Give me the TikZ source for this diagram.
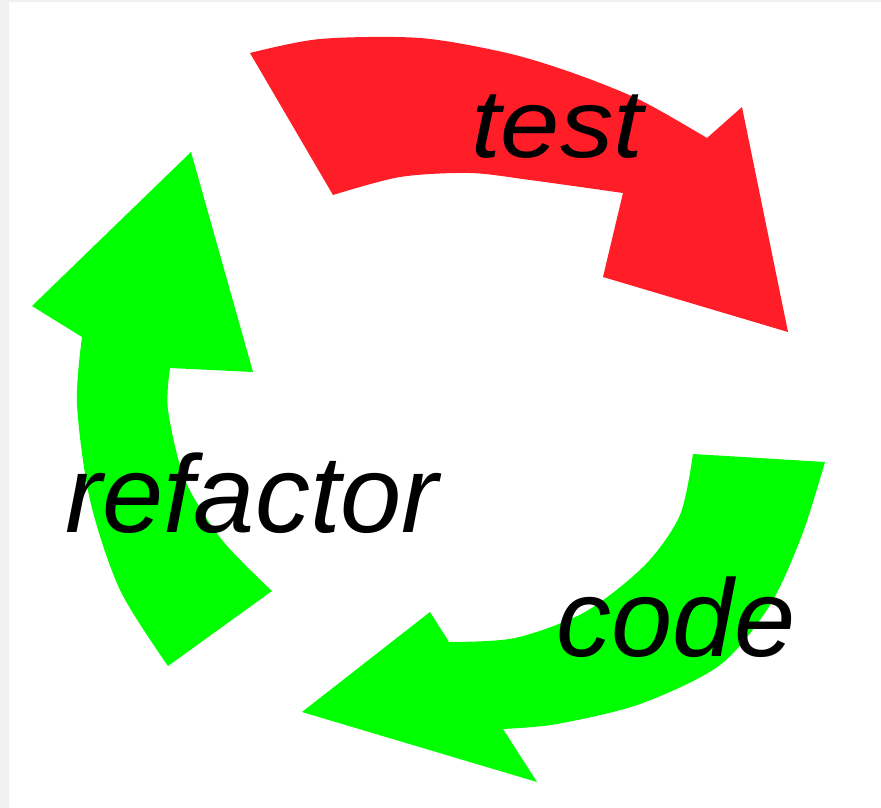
\documentclass[tikz,border=0pt]{standalone}
\usepackage{fontspec}
\setmainfont{Liberation Sans}
\definecolor{cyclered}{RGB}{255,30,40}
\definecolor{cyclegreen}{RGB}{0,255,0}
\begin{document}
\begin{tikzpicture}[x=1pt,y=-1pt,
  lbl/.style={font=\fontsize{110}{120}\selectfont\itshape, text=black, inner sep=0pt, anchor=base},
  redarrow/.style={fill=cyclered},
  greenarrow/.style={fill=cyclegreen}]
\useasboundingbox (0,0) rectangle (881,808);
\fill[white] (0,0) rectangle (881,808);
\fill[gray!12] (0,0) rectangle (9,808);
\fill[gray!12] (0,0) rectangle (881,2);
% red arrow (test)
\path[redarrow] (250,53)
  -- plot[smooth] coordinates {(250,53) (320,39) (420,38) (507,53) (573,73) (640,100) (707,138)}
  -- (742,107) -- (788,332) -- (603,277) -- (623,193)
  -- plot[smooth] coordinates {(623,193) (530,180) (470,173) (400,177) (333,195)}
  -- cycle;
% green arrow (refactor)
\path[greenarrow] (168,666)
  -- plot[smooth] coordinates {(168,666) (120,590) (90,500) (77,404) (82,337)}
  -- (32,306) -- (191,152) -- (253,372) -- (170,368)
  -- plot[smooth] coordinates {(170,368) (168,410) (185,480) (222,540) (272,591)}
  -- cycle;
% green arrow (code)
\path[greenarrow] (693,454)
  -- (825,462)
  -- plot[smooth] coordinates {(825,462) (802,535) (770,605) (720,665) (640,704) (557,724) (503,729)}
  -- (537,782) -- (302,712) -- (430,612) -- (449,642)
  -- plot[smooth] coordinates {(449,642) (515,638) (585,612) (645,565) (680,515) (693,454)}
  -- cycle;
\node[lbl, font=\fontsize{97}{110}\selectfont\itshape, xscale=1.1] (test) at (557,157) {test};
\node[lbl] (refactor) at (252,532) {refactor};
\node[lbl] (code) at (676,656) {code};
\end{tikzpicture}
\end{document}
